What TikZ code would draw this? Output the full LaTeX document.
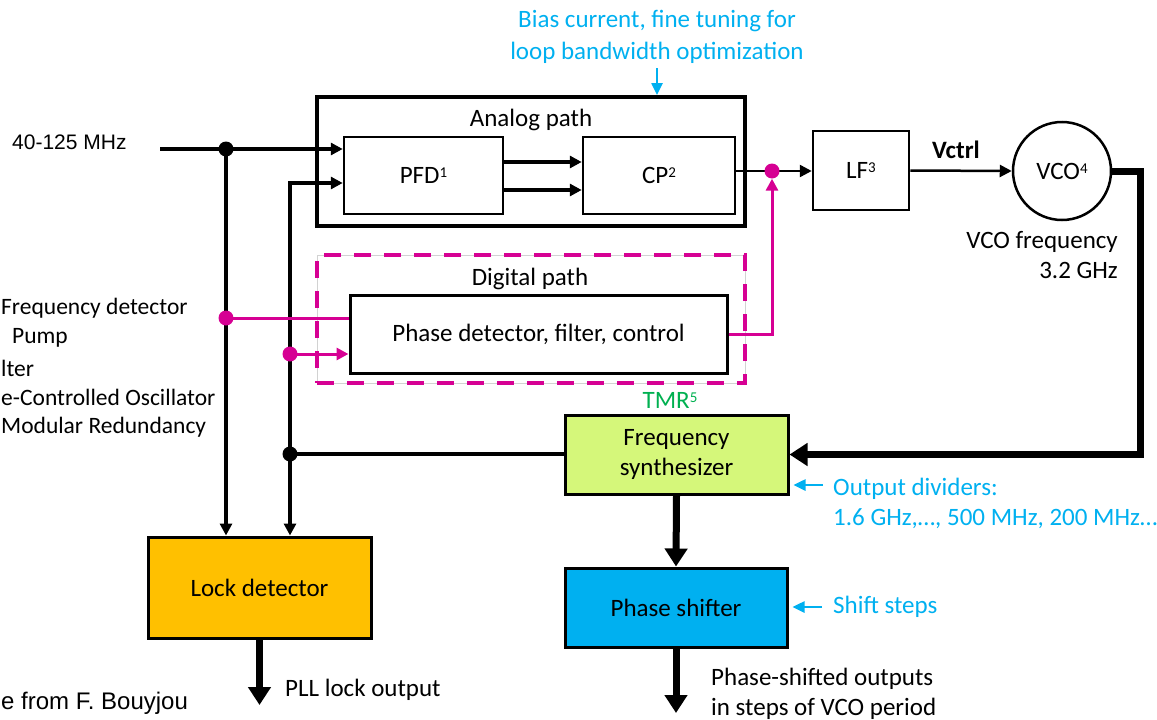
\documentclass[tikz,border=0pt]{standalone}
\usepackage{fontspec}
\setmainfont{Carlito}
\newfontfamily\arialfont{Liberation Sans}
\usetikzlibrary{arrows.meta,calc}
\definecolor{mag}{RGB}{214,0,147}
\definecolor{skyblue}{RGB}{0,176,240}
\definecolor{tmrgreen}{RGB}{0,176,80}
\definecolor{lockfill}{RGB}{255,192,0}
\definecolor{synthfill}{RGB}{213,247,122}
\pgfdeclarelayer{fg}
\pgfsetlayers{main,fg}
% small raised footnote digit
\newcommand\fnmark[1]{\raisebox{6pt}{\fontsize{15}{15}\selectfont #1}}
\begin{document}
\begin{tikzpicture}[x=1pt,y=-1pt,
  txt/.style={inner sep=0pt, font=\fontsize{25}{30}\selectfont},
  fntxt/.style={inner sep=0pt, font=\fontsize{23.5}{30}\selectfont},
  block/.style={draw, line width=2.5pt, inner sep=0pt, txt},
  conn/.style={line width=3.5pt},
  arr/.style={conn, -{Triangle[length=12pt,width=12pt]}},
  bigarr/.style={line width=7pt, -{Triangle[length=18pt,width=22pt]}},
  magline/.style={draw=mag, line width=3pt},
  magarr/.style={magline, -{Triangle[length=12pt,width=12pt]}},
  bluearr/.style={draw=skyblue, line width=2.5pt, -{Triangle[length=12pt,width=11pt]}},
  dot/.style={circle, fill, inner sep=0pt, minimum size=15pt},
]
\useasboundingbox (0,0) rectangle (1157,720);
\clip (0,0) rectangle (1157,720);

% junction dots, kept above the wires
\begin{pgfonlayer}{fg}
  \node[dot] (j1) at (226,149) {};
  \node[dot] (j2) at (290,454) {};
  \node[dot, fill=mag] (m1) at (226,318) {};
  \node[dot, fill=mag] (m2) at (290,354) {};
  \node[dot, fill=mag] (m3) at (772,171) {};
\end{pgfonlayer}

% analog path
\node[block, line width=4pt, minimum width=428pt, minimum height=129pt] (analog) at (531,161.5) {};
\node[txt] (analoglbl) at (531,120) {Analog path};
\node[block, minimum width=159pt, minimum height=77pt] (pfd) at (423.5,175.5) {PFD\fnmark{1}};
\node[block, minimum width=152pt, minimum height=77pt] (cp) at (659,175.5) {CP\fnmark{2}};
\node[block, minimum width=96pt, minimum height=79pt] (lf) at (861,170.5) {LF\fnmark{3}};
\node[block, circle, minimum size=98pt] (vco) at (1062,171) {VCO\fnmark{4}};

% digital path (triplicated)
\node[draw=mag, line width=4pt, dash pattern=on 17pt off 13pt,
      preaction={draw=gray!35, line width=1pt, solid},
      minimum width=428pt, minimum height=128pt, inner sep=0pt] (digital) at (531,319) {};
\node[txt] (digitallbl) at (530,279) {Digital path};
\node[block, line width=3pt, minimum width=377pt, minimum height=78pt] (pdc) at (538.5,334) {Phase detector, filter, control};
\node[txt, text=tmrgreen] (tmr) at (670,400) {TMR\fnmark{5}};

% lower blocks
\node[block, line width=3pt, fill=synthfill, minimum width=223pt, minimum height=79pt, align=center] (fs) at (676.5,454.5) {Frequency\\synthesizer};
\node[block, line width=3pt, fill=lockfill, minimum width=223pt, minimum height=101pt] (ld) at (259.5,587.5) {Lock detector};
\node[block, line width=3pt, fill=skyblue, minimum width=222pt, minimum height=79pt] (ps) at (676,607.5) {Phase shifter};

% reference input and feedback
\coordinate (in) at (160,149);
\coordinate (c2) at (290,183);
\draw[arr] (in) -- (pfd.west |- in);
\draw[arr] (j1.center) -- (ld.north -| j1);
\draw[arr] (j2.center) -- (c2) -- (pfd.west |- c2);
\draw[arr] (j2.center) -- (ld.north -| j2);
\draw[conn] (fs.west |- j2) -- (j2.center);

% analog chain
\draw[arr] ([yshift=13.5pt]pfd.east) -- ([yshift=13.5pt]cp.west);
\draw[arr] ([yshift=-14.5pt]pfd.east) -- ([yshift=-14.5pt]cp.west);
\draw[line width=2.5pt] ([yshift=4.5pt]cp.east) -- (m3.center);
\draw[arr, line width=2.5pt] (m3.center) -- (lf.west |- m3);
\draw[arr, line width=2.5pt] (lf.east) -- (vco.west);
\node[txt, font=\bfseries\fontsize{25}{30}\selectfont] (vctrl) at (956,150) {Vctrl};

% digital chain
\draw[magline] (m1.center) -- (pdc.west |- m1);
\draw[magarr] (m2.center) -- (pdc.west |- m2);
\draw[magarr] (pdc.east) -- (pdc.east -| m3) -- (m3.south);

% VCO output loop and outputs
\coordinate (corner) at (1140,171);
\draw[bigarr] (vco.east) -- (corner) |- (fs.east);
\draw[bigarr] (fs.south) -- (ps.north);
\coordinate (psout) at (676,713);
\draw[bigarr] (ps.south) -- (psout);
\coordinate (ldout) at (259.5,705);
\draw[bigarr] (ld.south) -- (ldout);

% control inputs
\coordinate (biasend) at (657,68);
\draw[bluearr] (biasend) -- (analog.north -| biasend);
\coordinate (odstart) at (823,485);
\draw[bluearr] (odstart) -- ([xshift=4pt]fs.east |- odstart);
\coordinate (ssstart) at (822,607);
\draw[bluearr] (ssstart) -- ([xshift=4pt]ps.east |- ssstart);

% labels
\node[txt, text=skyblue, align=center, font=\fontsize{25}{32}\selectfont] (bias) at (657,37) {Bias current, fine tuning for\\loop bandwidth optimization};
\node[txt, font=\arialfont\fontsize{21}{25}\selectfont, anchor=west] (inlbl) at (12,142) {40-125 MHz};
\node[txt, align=right, anchor=east] (vcof) at (1118,255) {VCO frequency\\3.2 GHz};
\node[txt, text=skyblue, align=left, anchor=west] (odlbl) at (833,503) {Output dividers:\\1.6 GHz,…, 500 MHz, 200 MHz…};
\node[txt, text=skyblue, anchor=west] (sslbl) at (833,607) {Shift steps};
\node[txt, anchor=west] (plllbl) at (285,690) {PLL lock output};
\node[txt, align=left, anchor=west] (pslbl) at (711,694) {Phase-shifted outputs\\in steps of VCO period};

% footnotes
\node[fntxt, anchor=west] (fn1) at (1,308) {Frequency detector};
\node[fntxt, anchor=west] (fn2) at (12,338) {Pump};
\node[fntxt, anchor=west] (fn3) at (1,368) {lter};
\node[fntxt, anchor=west] (fn4) at (1,397) {e-Controlled Oscillator};
\node[fntxt, anchor=west] (fn5) at (1,427) {Modular Redundancy};
\node[txt, font=\arialfont\fontsize{24}{28}\selectfont, anchor=west] (credit) at (1,703) {e from F. Bouyjou};
\end{tikzpicture}
\end{document}
